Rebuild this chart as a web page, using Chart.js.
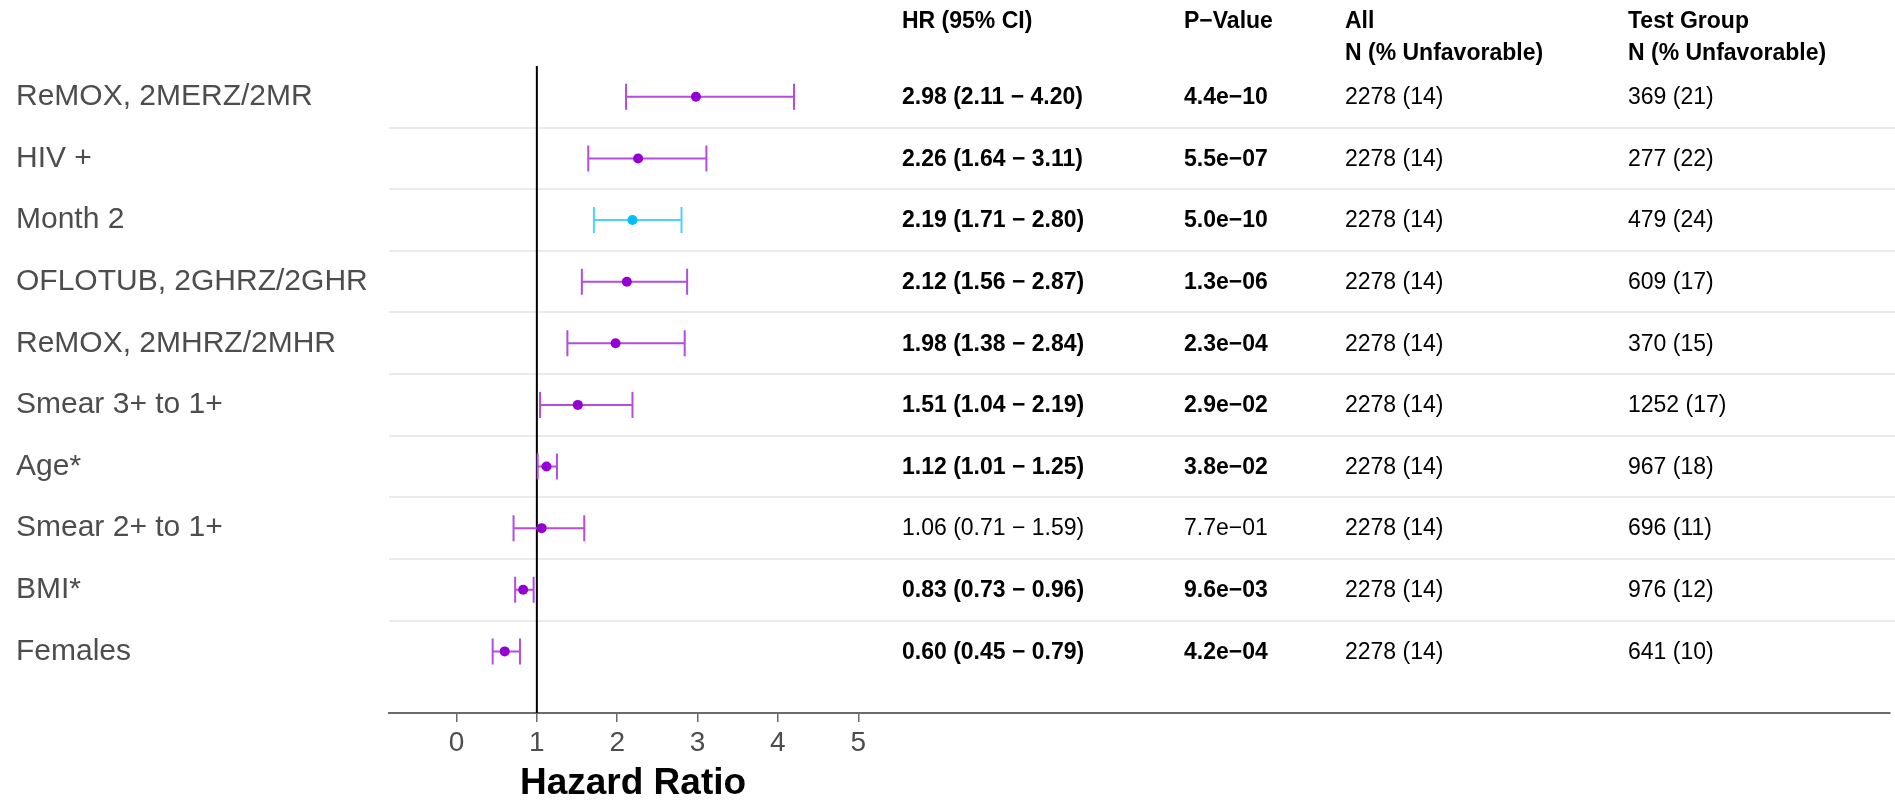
<!DOCTYPE html>
<html>
<head>
<meta charset="utf-8">
<title>Hazard Ratio</title>
<script src="https://cdn.jsdelivr.net/npm/chart.js@4"></script>
<style>
  html, body { margin: 0; padding: 0; background: #fff; }
  #wrap { position: relative; width: 1895px; height: 803px; }
</style>
</head>
<body>
<div id="wrap"><canvas id="forestChart"></canvas></div>
<script>
// Variabili del modello (dall'alto verso il basso)
const labels = ['ReMOX, 2MERZ/2MR', 'HIV +', 'Month 2', 'OFLOTUB, 2GHRZ/2GHR', 'ReMOX, 2MHRZ/2MHR',
  'Smear 3+ to 1+', 'Age*', 'Smear 2+ to 1+', 'BMI*', 'Females'];
const hr = [2.98, 2.26, 2.19, 2.12, 1.98, 1.51, 1.12, 1.06, 0.83, 0.60];
const lower = [2.11, 1.64, 1.71, 1.56, 1.38, 1.04, 1.01, 0.71, 0.73, 0.45];
const upper = [4.20, 3.11, 2.80, 2.87, 2.84, 2.19, 1.25, 1.59, 0.96, 0.79];
const pValues = ['4.4e\u221210', '5.5e\u221207', '5.0e\u221210', '1.3e\u221206', '2.3e\u221204',
  '2.9e\u221202', '3.8e\u221202', '7.7e\u221201', '9.6e\u221203', '4.2e\u221204'];
const allN = ['2278 (14)', '2278 (14)', '2278 (14)', '2278 (14)', '2278 (14)',
  '2278 (14)', '2278 (14)', '2278 (14)', '2278 (14)', '2278 (14)'];
const testN = ['369 (21)', '277 (22)', '479 (24)', '609 (17)', '370 (15)',
  '1252 (17)', '967 (18)', '696 (11)', '976 (12)', '641 (10)'];
const groups = ['test', 'test', 'time', 'test', 'test', 'test', 'test', 'test', 'test', 'test'];
const xTicks = [0, 1, 2, 3, 4, 5];

const pointColors = { test: '#9400d3', time: '#00bfff' };
const barColors = { test: '#b44ce0', time: '#4dd2ff' };

const FONT = '"Liberation Sans", Arial, Helvetica, sans-serif';

// testo formattato dell'intervallo di confidenza
const ciText = hr.map((v, i) =>
  v.toFixed(2) + ' (' + lower[i].toFixed(2) + ' \u2212 ' + upper[i].toFixed(2) + ')');
const significant = pValues.map(p => parseFloat(p.replace('\u2212', '-')) < 0.05);

const columns = [
  { x: 902, head: ['HR (95% CI)'], values: ciText, boldIf: true },
  { x: 1184, head: ['P\u2212Value'], values: pValues, boldIf: true },
  { x: 1345, head: ['All', 'N (% Unfavorable)'], values: allN, boldIf: false },
  { x: 1628, head: ['Test Group', 'N (% Unfavorable)'], values: testN, boldIf: false }
];

// Plugin per righe, linea di riferimento, barre di errore e tabella
const forestPlugin = {
  id: 'forest',
  beforeDatasetsDraw(chart) {
    const { ctx, chartArea, scales: { x, y } } = chart;
    ctx.save();
    // separatori tra le righe
    ctx.strokeStyle = '#ebebeb';
    ctx.lineWidth = 2;
    for (let i = 0; i < labels.length - 1; i++) {
      const py = Math.round(y.getPixelForValue(i + 0.5));
      ctx.beginPath();
      ctx.moveTo(chartArea.left, py);
      ctx.lineTo(chart.width, py);
      ctx.stroke();
    }
    // linea verticale a HR = 1
    const x1 = x.getPixelForValue(1);
    ctx.strokeStyle = '#000';
    ctx.lineWidth = 2;
    ctx.beginPath();
    ctx.moveTo(x1, chartArea.top);
    ctx.lineTo(x1, chartArea.bottom);
    ctx.stroke();
    // barre di errore
    ctx.lineWidth = 2;
    labels.forEach((_, i) => {
      const py = y.getPixelForValue(i);
      const xl = x.getPixelForValue(lower[i]);
      const xh = x.getPixelForValue(upper[i]);
      ctx.strokeStyle = barColors[groups[i]];
      ctx.beginPath();
      ctx.moveTo(xl, py); ctx.lineTo(xh, py);
      ctx.moveTo(xl, py - 13); ctx.lineTo(xl, py + 13);
      ctx.moveTo(xh, py - 13); ctx.lineTo(xh, py + 13);
      ctx.stroke();
    });
    ctx.restore();
  },
  afterDraw(chart) {
    const { ctx, scales: { x, y } } = chart;
    ctx.save();
    ctx.textBaseline = 'middle';
    ctx.textAlign = 'left';
    // etichette delle righe
    ctx.fillStyle = '#4d4d4d';
    ctx.font = '30px ' + FONT;
    labels.forEach((lab, i) => ctx.fillText(lab, 16, y.getPixelForValue(i)));
    // intestazioni
    ctx.fillStyle = '#000';
    ctx.font = 'bold 23px ' + FONT;
    columns.forEach(col => {
      col.head.forEach((h, k) => ctx.fillText(h, col.x, 22 + k * 32));
    });
    // valori della tabella
    columns.forEach(col => {
      col.values.forEach((v, i) => {
        const bold = col.boldIf && significant[i];
        ctx.font = (bold ? 'bold ' : '') + '23px ' + FONT;
        ctx.fillText(v, col.x, y.getPixelForValue(i) + 1);
      });
    });
    // titolo dell'asse x
    ctx.textAlign = 'center';
    ctx.font = 'bold 37px ' + FONT;
    ctx.fillText('Hazard Ratio', 633, 784);
    ctx.restore();
  }
};

const ctx = document.getElementById('forestChart').getContext('2d');

const chart = new Chart(ctx, {
  type: 'scatter',
  data: {
    datasets: [{
      data: hr.map((v, i) => ({ x: v, y: i })),
      pointBackgroundColor: groups.map(g => pointColors[g]),
      pointBorderWidth: 0,
      pointRadius: 5,
      pointHoverRadius: 5
    }]
  },
  options: {
    responsive: true,
    maintainAspectRatio: false,
    animation: false,
    events: [],
    layout: { padding: { left: 389, top: 66, right: 0, bottom: 0 } },
    plugins: {
      legend: { display: false },
      tooltip: { enabled: false }
    },
    scales: {
      x: {
        type: 'linear',
        min: -0.84,
        max: 17.84,
        afterBuildTicks: scale => { scale.ticks = xTicks.map(v => ({ value: v })); },
        afterFit: scale => { scale.height = 90; },
        border: { display: true, color: '#6b6b6b', width: 2 },
        grid: { drawOnChartArea: false, drawTicks: true, tickLength: 9, color: '#6b6b6b', lineWidth: 1.5 },
        ticks: {
          color: '#4d4d4d',
          padding: 4,
          maxRotation: 0,
          autoSkip: false,
          font: { family: FONT, size: 28 }
        }
      },
      y: {
        type: 'linear',
        display: false,
        reverse: true,
        min: -0.5,
        max: 10
      }
    }
  },
  plugins: [forestPlugin]
});
</script>
</body>
</html>
